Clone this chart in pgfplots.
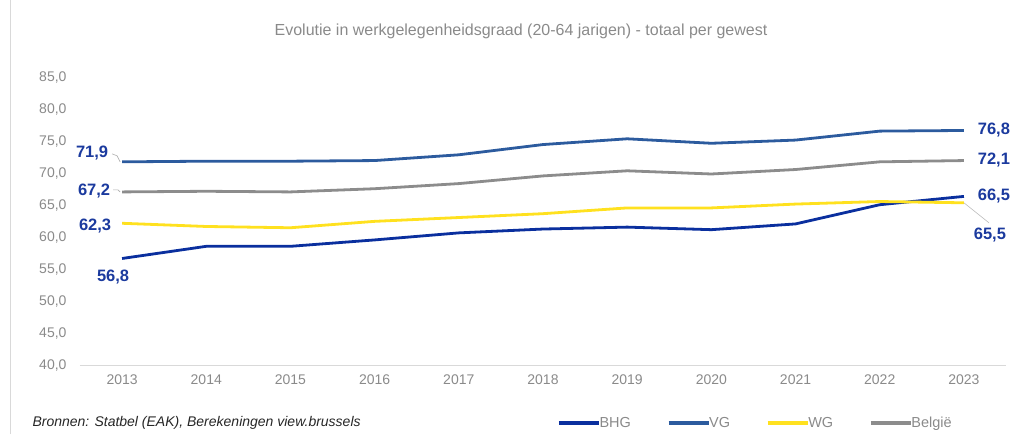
\documentclass[border=0pt]{standalone}
\usepackage{pgfplots}
\pgfplotsset{compat=1.18}
\usepackage{fontspec}
\setmainfont{Liberation Sans}
\definecolor{bhg}{HTML}{0A2F9E}
\definecolor{vg}{HTML}{2C5B9E}
\definecolor{wg}{HTML}{FFE11F}
\definecolor{bel}{HTML}{8C8C8C}
\definecolor{lab}{HTML}{1B3A9E}
\definecolor{tick}{HTML}{8A8A8A}
\definecolor{gridc}{HTML}{D9D9D9}
\begin{document}
\begin{tikzpicture}
\path[use as bounding box] (0pt,0pt) rectangle (1018pt,434pt);
\draw[gridc, line width=1pt] (10pt,0pt) -- (10pt,434pt);
\begin{axis}[
  at={(80pt,68pt)}, anchor=south west,
  width=926pt, height=288pt, scale only axis,
  xmin=-0.5, xmax=10.5, ymin=40, ymax=85,
  xtick={0,...,10},
  xticklabels={2013,2014,2015,2016,2017,2018,2019,2020,2021,2022,2023},
  ytick={40,45,...,85},
  axis x line*=bottom, axis y line*=left,
  x axis line style={gridc, line width=1pt, -},
  y axis line style={draw=none},
  major tick length=0pt,
  ticklabel style={font=\fontsize{14}{16}\selectfont, text=tick},
  xticklabel style={yshift=-5pt},
  yticklabel style={xshift=-10pt, /pgf/number format/.cd, use comma, fixed, fixed zerofill, precision=1, assume math mode=true},
  clip=false,
  legend columns=4,
  legend style={at={(0.512,-0.198)}, anchor=west, draw=none, fill=none,
    font=\fontsize{14.5}{16}\selectfont, text=tick,
    /tikz/every even column/.append style={column sep=34pt},
    /tikz/every odd column/.append style={column sep=-3pt}},
  legend image code/.code={\draw[#1, line width=3.2pt] (0pt,0pt) -- (40pt,0pt);},
  legend cell align=left,
]
\addplot[bhg, line width=2.8pt] coordinates {(0,56.8)(1,58.7)(2,58.7)(3,59.7)(4,60.8)(5,61.4)(6,61.7)(7,61.3)(8,62.2)(9,65.2)(10,66.5)};
\addlegendentry{BHG}
\addplot[vg, line width=2.8pt] coordinates {(0,71.9)(1,72.0)(2,72.0)(3,72.1)(4,73.0)(5,74.6)(6,75.5)(7,74.8)(8,75.3)(9,76.7)(10,76.8)};
\addlegendentry{VG}
\addplot[wg, line width=2.8pt] coordinates {(0,62.3)(1,61.8)(2,61.6)(3,62.6)(4,63.2)(5,63.8)(6,64.7)(7,64.7)(8,65.3)(9,65.7)(10,65.5)};
\addlegendentry{WG}
\addplot[bel, line width=2.8pt] coordinates {(0,67.2)(1,67.3)(2,67.2)(3,67.7)(4,68.5)(5,69.7)(6,70.5)(7,70.0)(8,70.7)(9,71.9)(10,72.1)};
\addlegendentry{België}
\tikzset{dl/.style={font=\bfseries\fontsize{16.5}{18}\selectfont, text=lab}}
\draw[bel!70, line width=0.6pt] (axis cs:0,71.9) ++(-2pt,0pt) -- ++(-3pt,6pt) -- ++(-5pt,2pt);
\node[dl] at (axis cs:0,71.9) [xshift=-30pt, yshift=9pt] {71,9};
\draw[bel!70, line width=0.6pt] (axis cs:0,67.2) ++(-2pt,0pt) -- ++(-2pt,2pt) -- ++(-5pt,0pt);
\node[dl] at (axis cs:0,67.2) [xshift=-28pt, yshift=1pt] {67,2};
\node[dl] at (axis cs:0,62.3) [xshift=-27pt, yshift=-3pt] {62,3};
\node[dl] at (axis cs:0,56.8) [xshift=-9pt, yshift=-19pt] {56,8};
\node[dl] at (axis cs:10,76.8) [xshift=30pt] {76,8};
\node[dl] at (axis cs:10,72.1) [xshift=30pt, yshift=1pt] {72,1};
\node[dl] at (axis cs:10,66.5) [xshift=30pt] {66,5};
\draw[bel!60, line width=0.6pt] (axis cs:10,65.5) -- ++(25pt,-20pt);
\node[dl] at (axis cs:10,65.5) [xshift=26pt, yshift=-32pt] {65,5};
\end{axis}
\node[font=\fontsize{16}{18}\selectfont, text=tick] at (521pt,403pt) {Evolutie in werkgelegenheidsgraad (20-64 jarigen) - totaal per gewest};
\node[anchor=west, font=\itshape\fontsize{14}{16}\selectfont, text=black!85] at (29pt,11pt) {Bronnen: Statbel (EAK), Berekeningen view.brussels};
\end{tikzpicture}
\end{document}
